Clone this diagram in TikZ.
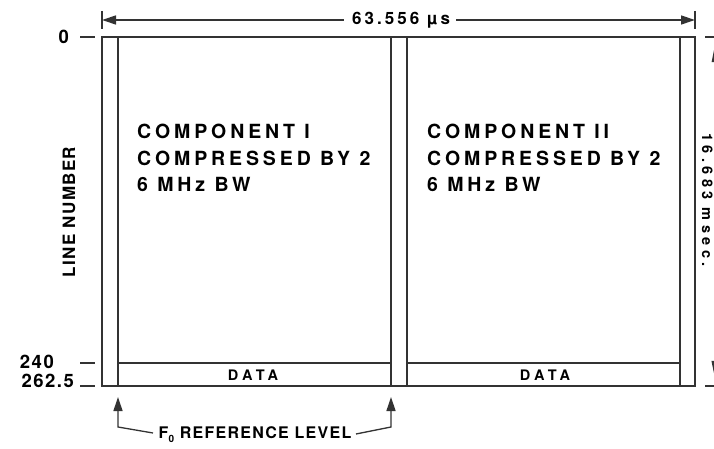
\documentclass[tikz,border=0pt]{standalone}
\usepackage{fontspec}
\setmainfont{TeX Gyre Heros}
\newfontfamily\compfont[LetterSpace=20]{TeX Gyre Heros}
\newfontfamily\datafont[LetterSpace=30]{TeX Gyre Heros}
\newfontfamily\dimfont[LetterSpace=18]{TeX Gyre Heros}
\newfontfamily\axfont[LetterSpace=8]{TeX Gyre Heros}
\newfontfamily\sidefont[LetterSpace=30]{TeX Gyre Heros}
\usetikzlibrary{arrows.meta}
\begin{document}
\begin{tikzpicture}[x=1pt,y=-1pt,
  ln/.style={draw=black!80, line width=1.4pt},
  arr/.style={draw=black!80, line width=1.3pt, line join=miter, -{Triangle[length=14pt,width=9pt]}},
  comp/.style={font=\compfont\bfseries\fontsize{19.5}{24}\selectfont, anchor=base west, inner sep=0pt},
  datalbl/.style={font=\datafont\bfseries\fontsize{14.5}{16}\selectfont, inner sep=0pt},
  dimlbl/.style={font=\dimfont\bfseries\fontsize{17}{20}\selectfont, inner sep=0pt},
  axlbl/.style={font=\axfont\bfseries\fontsize{18.5}{20}\selectfont, inner sep=0pt},
  vlbl/.style={font=\axfont\bfseries\fontsize{17}{20}\selectfont, inner sep=0pt},
  slbl/.style={font=\sidefont\bfseries\fontsize{14.5}{16}\selectfont, inner sep=0pt},
  reflbl/.style={font=\axfont\bfseries\fontsize{16}{18}\selectfont, inner sep=0pt}
]
\clip (0,0) rectangle (714,449);
% frame
\coordinate (TL) at (102,37);
\coordinate (BR) at (695,386);
\draw[ln] (TL) rectangle (BR);
\coordinate (v1t) at (118,37);  \coordinate (v1b) at (118,386);
\coordinate (v2t) at (391,37);  \coordinate (v2b) at (391,386);
\coordinate (v3t) at (407,37);  \coordinate (v3b) at (407,386);
\coordinate (v4t) at (680,37);  \coordinate (v4b) at (680,386);
\draw[ln] (v1t) -- (v1b);
\draw[ln] (v2t) -- (v2b);
\draw[ln] (v3t) -- (v3b);
\draw[ln] (v4t) -- (v4b);
\coordinate (d1l) at (118,363); \coordinate (d1r) at (391,363);
\coordinate (d2l) at (407,363); \coordinate (d2r) at (680,363);
\draw[ln] (d1l) -- (d1r);
\draw[ln] (d2l) -- (d2r);
\node[datalbl] (data1) at (253,375) {DATA};
\node[datalbl] (data2) at (545,375) {DATA};
% component texts
\node[comp] (c1a) at (137,139) {COMPONENT I};
\node[comp] (c1b) at (137,165) {COMPRESSED BY 2};
\node[comp] (c1c) at (137,191) {6 MHz BW};
\node[comp] (c2a) at (427,139) {COMPONENT II};
\node[comp] (c2b) at (427,165) {COMPRESSED BY 2};
\node[comp] (c2c) at (427,191) {6 MHz BW};
% top dimension
\coordinate (tl1) at (102,11); \coordinate (tl2) at (102,29);
\coordinate (tr1) at (695,11); \coordinate (tr2) at (695,29);
\draw[ln] (tl1) -- (tl2);
\draw[ln] (tr1) -- (tr2);
\node[dimlbl] (w) at (401,20) {63.556 µs};
\coordinate (wl) at (102,20); \coordinate (wr) at (695,20);
\draw[arr] ([xshift=-8pt]w.west) -- (wl);
\draw[arr] ([xshift=6pt]w.east) -- (wr);
% left axis
\coordinate (a0l) at (80,37);  \coordinate (a0r) at (95,37);
\coordinate (a1l) at (80,363); \coordinate (a1r) at (95,363);
\coordinate (a2l) at (80,386); \coordinate (a2r) at (95,386);
\draw[ln] (a0l) -- (a0r);
\draw[ln] (a1l) -- (a1r);
\draw[ln] (a2l) -- (a2r);
\node[axlbl, anchor=east] (l0) at (69,37) {0};
\node[axlbl, anchor=east] (l240) at (54,362) {240};
\node[axlbl, anchor=east] (l262) at (74,381) {262.5};
\node[vlbl, rotate=90] (ln) at (69,212) {LINE NUMBER};
% F0 reference level
\node[reflbl] (f0) at (255,435) {F{\fontsize{10}{10}\selectfont\raisebox{-4pt}{0}} REFERENCE LEVEL};
\coordinate (la) at (118,397); \coordinate (lc) at (118,427); \coordinate (ls) at (153,433);
\coordinate (ra) at (391,397); \coordinate (rc) at (391,427); \coordinate (rs) at (356,434);
\draw[arr] (ls) -- (lc) -- (la);
\draw[arr] (rs) -- (rc) -- (ra);
% right dimension (at the edge, as in the reference)
\coordinate (rt1) at (705,37); \coordinate (rt2) at (714,37);
\coordinate (rb1) at (705,386); \coordinate (rb2) at (714,386);
\draw[ln] (rt1) -- (rt2);
\draw[ln] (rb1) -- (rb2);
\node[slbl, rotate=-90, anchor=base] (ms) at (702,200) {16.683 msec.};
\coordinate (rtop) at (716,40); \coordinate (rbot) at (716,383);
\draw[arr,-{Triangle[length=22pt,width=10pt]}] ([xshift=12pt]ms.west) -- (rtop);
\draw[arr,-{Triangle[length=22pt,width=10pt]}] ([xshift=12pt]ms.east) -- (rbot);
\end{tikzpicture}
\end{document}
